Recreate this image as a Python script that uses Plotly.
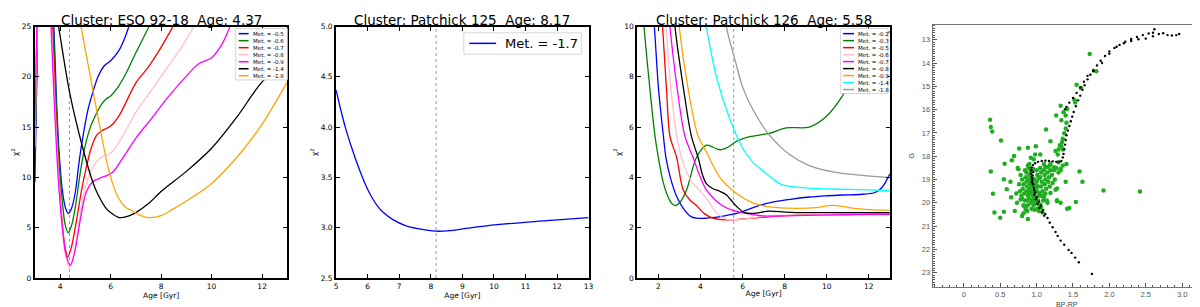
import plotly.graph_objects as go

W, H = 1200, 307

# ---------------- Panel 1: ESO 92-18 ----------------
p1_title = "Cluster: ESO 92-18 \u00a0Age: 4.37"
p1_best_age = 4.37
p1_labels = ["Met. = -0.5", "Met. = -0.6", "Met. = -0.7", "Met. = -0.8",
             "Met. = -0.9", "Met. = -1.4", "Met. = -1.8"]
p1_colors = ["#0000ff", "#008000", "#ff0000", "#ffc0cb", "#ff00ff", "#000000", "#ffa500"]

p1_age_m05 = [3.0, 3.08, 3.15, 3.4, 3.75, 3.86, 3.96, 4.1, 4.22, 4.33, 4.45, 4.6, 4.75, 4.9,
              5.1, 5.3, 5.5, 5.75, 6.0, 6.3, 6.55, 6.75, 7.0]
p1_chi_m05 = [9.5, 20, 32, 40, 25, 17.5, 12.5, 8.5, 6.9, 6.4, 6.9, 8.5, 11.5, 14,
              16.7, 18.5, 20, 21.1, 21.6, 22.5, 23.8, 25.2, 27]
p1_age_m06 = [3.0, 3.08, 3.15, 3.4, 3.73, 3.85, 3.95, 4.1, 4.2, 4.32, 4.45, 4.6, 4.8, 4.97,
              5.2, 5.43, 5.65, 5.82, 6.0, 6.3, 6.6, 7.0, 7.52, 7.8]
p1_chi_m06 = [12, 22, 32, 40, 25, 17, 12.0, 7.3, 5.3, 4.5, 5.2, 7, 10.5, 12.9,
              15, 16.3, 17.3, 17.8, 18.1, 19.0, 20.3, 22.4, 25, 26.5]
p1_age_m07 = [3.0, 3.08, 3.15, 3.4, 3.7, 3.8, 3.92, 4.05, 4.18, 4.3, 4.42, 4.6, 4.8, 4.93,
              5.23, 5.45, 5.69, 6.0, 6.35, 7.0, 7.5, 7.92, 8.47, 8.8]
p1_chi_m07 = [14, 24, 33, 40, 25, 18, 11.5, 6.5, 3.3, 2.1, 2.8, 5.0, 8.0, 9.75,
              12.9, 14.2, 14.7, 15.1, 16.2, 19.4, 21.0, 22.6, 25, 26.5]
p1_age_m08 = [3.0, 3.08, 3.15, 3.4, 3.66, 3.78, 3.92, 4.05, 4.2, 4.38, 4.55, 4.75, 4.95,
              5.17, 5.45, 5.69, 6.0, 6.5, 7.0, 7.6, 8.18, 8.8, 9.29, 9.6]
p1_chi_m08 = [13, 23, 33, 40, 25, 18, 11.0, 6, 2.5, 0.9, 2.3, 5.5, 8.5,
              10.4, 11.6, 12.1, 12.4, 14.2, 16.5, 18.6, 20.7, 22.9, 25, 26.5]
p1_age_m09 = [3.0, 3.08, 3.15, 3.4, 3.64, 3.76, 3.9, 4.05, 4.22, 4.4, 4.58, 4.8, 5.03, 5.3,
              5.56, 6.07, 6.5, 7.0, 7.6, 8.25, 8.9, 9.49, 10.0, 10.4, 10.73, 11.0]
p1_chi_m09 = [15, 25, 34, 40, 25, 18, 11.0, 6, 2.5, 1.25, 2.6, 5.8, 8.5, 9.6,
              9.9, 10.5, 12.0, 13.9, 15.8, 17.9, 19.8, 21.3, 21.9, 23.2, 25, 26.5]
p1_age_m14 = [3.8, 3.94, 4.38, 4.9, 5.3, 5.5, 5.8, 6.0, 6.34, 6.7, 7.0, 7.5, 8.0, 9.0,
              10.0, 11.0, 12.0, 13.0]
p1_chi_m14 = [27, 25, 18.4, 12.9, 9.5, 8.3, 7.0, 6.5, 6.0, 6.15, 6.5, 7.4, 8.6, 10.6,
              12.9, 16.0, 19.5, 21.8]
p1_age_m18 = [4.7, 4.83, 5.2, 5.5, 5.95, 6.3, 6.6, 6.87, 7.2, 7.52, 8.0, 8.5, 9.1, 10.0,
              11.2, 12.0, 13.0]
p1_chi_m18 = [27, 25, 20, 16, 10.5, 8.0, 7.0, 6.66, 6.2, 6.0, 6.2, 6.9, 7.8, 9.4,
              12.6, 15.3, 19.5]

# ---------------- Panel 2: Patchick 125 ----------------
p2_title = "Cluster: Patchick 125 \u00a0Age: 8.17"
p2_best_age = 8.17
p2_label = "Met. = -1.7"
p2_color = "#0000ff"
p2_age = [5.0, 5.15, 5.3, 5.5, 5.7, 5.9, 6.1, 6.3, 6.5, 6.8, 7.2, 7.6, 8.17, 8.6, 9.06,
          10.1, 11.68, 13.0]
p2_chi = [4.37, 4.17, 3.99, 3.79, 3.61, 3.45, 3.32, 3.22, 3.15, 3.08, 3.02, 2.99, 2.965,
          2.97, 2.99, 3.03, 3.07, 3.10]

# ---------------- Panel 3: Patchick 126 ----------------
p3_title = "Cluster: Patchick 126 \u00a0Age: 5.58"
p3_best_age = 5.58
p3_labels = ["Met. = -0.2", "Met. = -0.3", "Met. = -0.5", "Met. = -0.6", "Met. = -0.7",
             "Met. = -0.8", "Met. = -0.9", "Met. = -1.4", "Met. = -1.8"]
p3_colors = ["#0000ff", "#008000", "#ff0000", "#ffc0cb", "#ff00ff", "#000000",
             "#ffa500", "#00ffff", "#999999"]

p3_age_m02 = [1.7, 1.81, 2.0, 2.24, 2.36, 2.6, 2.87, 3.2, 3.57, 3.97, 4.28, 4.8, 5.3, 5.86,
              6.5, 7.27, 8.2, 9.17, 10.0, 10.74, 11.69, 12.3, 12.63, 13.0]
p3_chi_m02 = [11, 10, 7.6, 5.64, 4.79, 3.9, 3.24, 2.75, 2.43, 2.37, 2.38, 2.42, 2.5, 2.6,
              2.8, 2.99, 3.12, 3.22, 3.27, 3.3, 3.33, 3.4, 3.6, 4.14]
p3_age_m03 = [1.2, 1.32, 1.6, 1.84, 2.0, 2.2, 2.39, 2.6, 2.79, 3.0, 3.34, 3.81, 4.29, 4.6,
              4.92, 5.3, 5.7, 6.33, 7.28, 8.06, 9.17, 9.95, 10.74, 11.69, 12.4, 13.0]
p3_chi_m03 = [11.5, 10, 7.5, 5.64, 4.79, 3.9, 3.37, 3.0, 2.88, 2.98, 3.5, 4.79, 5.28, 5.2,
              5.1, 5.2, 5.43, 5.62, 5.75, 5.97, 6.0, 6.4, 7.23, 8.78, 9.5, 9.8]
p3_age_m05 = [2.1, 2.2, 2.4, 2.55, 2.87, 3.18, 3.5, 3.81, 4.2, 4.6, 5.0, 5.7, 6.5, 7.5,
              8.54, 10.0, 11.5, 13.0]
p3_chi_m05 = [11, 10, 7.3, 5.64, 4.79, 3.5, 3.1, 2.88, 2.55, 2.38, 2.32, 2.32, 2.38, 2.45,
              2.5, 2.52, 2.53, 2.55]
p3_age_m06 = [2.25, 2.36, 2.6, 2.87, 3.1, 3.35, 3.65, 4.0, 4.28, 4.5, 4.76, 5.23, 6.0, 7.0,
              8.5, 10.0, 11.5, 13.0]
p3_chi_m06 = [11, 10, 7.5, 5.64, 4.79, 4.2, 3.76, 3.45, 3.18, 2.9, 2.6, 2.34, 2.34, 2.45,
              2.5, 2.52, 2.53, 2.55]
p3_age_m07 = [2.45, 2.55, 2.9, 3.26, 3.65, 4.0, 4.28, 4.7, 5.07, 5.5, 6.0, 6.96, 8.0, 9.5,
              11.0, 13.0]
p3_chi_m07 = [11, 10, 7.5, 5.64, 4.79, 4.0, 3.5, 3.1, 2.86, 2.7, 2.6, 2.47, 2.47, 2.5,
              2.52, 2.53]
p3_age_m08 = [2.7, 2.79, 3.2, 3.57, 3.89, 4.1, 4.28, 4.6, 4.91, 5.23, 5.45, 5.7, 6.09, 6.5,
              7.28, 8.0, 8.54, 10.0, 11.5, 13.0]
p3_chi_m08 = [11, 10, 7.5, 5.64, 4.79, 4.1, 3.75, 3.55, 3.45, 3.31, 3.1, 2.86, 2.6, 2.57,
              2.66, 2.62, 2.6, 2.6, 2.6, 2.6]
p3_age_m09 = [2.9, 2.99, 3.4, 3.89, 4.29, 4.92, 5.7, 6.49, 7.27, 8.54, 9.5, 10.1, 10.6,
              11.2, 12.0, 13.0]
p3_chi_m09 = [11, 10, 7.6, 5.64, 5.0, 4.0, 3.37, 2.99, 2.83, 2.77, 2.8, 2.88, 2.87,
              2.78, 2.72, 2.7]
p3_age_m14 = [4.1, 4.28, 4.76, 5.39, 6.0, 6.5, 6.96, 7.5, 7.9, 8.5, 9.17, 10.0, 11.06,
              12.0, 13.0]
p3_chi_m14 = [11, 10, 8.0, 6.33, 5.17, 4.6, 4.27, 3.9, 3.7, 3.62, 3.57, 3.54, 3.52,
              3.5, 3.47]
p3_age_m18 = [5.1, 5.23, 5.7, 6.0, 6.49, 7.27, 8.22, 9.17, 10.43, 11.69, 13.0]
p3_chi_m18 = [11, 10, 8.5, 7.6, 6.7, 5.69, 4.92, 4.47, 4.2, 4.08, 3.99]

# ---------------- Panel 4: CMD ----------------
iso_bprp = [1.76, 1.58, 1.53, 1.48, 1.44, 1.38, 1.33, 1.29, 1.26, 1.22, 1.18, 1.15, 1.12,
            1.09, 1.06, 1.03, 1.0, 0.98, 0.96, 0.95, 0.94, 0.93, 0.925, 0.925, 0.93, 0.95,
            0.98, 1.02, 1.07, 1.12, 1.17, 1.22, 1.27, 1.31, 1.34, 1.36, 1.37, 1.38, 1.39,
            1.4, 1.41, 1.43, 1.45, 1.47, 1.49, 1.51, 1.54, 1.57, 1.6, 1.63, 1.66, 1.7, 1.74,
            1.78, 1.83, 1.88, 1.94, 2.0, 2.07, 2.14, 2.22, 2.3, 2.38, 2.46, 2.54, 2.6, 2.62,
            1.39, 1.41, 1.45, 1.5, 1.55, 1.6, 1.65, 1.7, 1.78, 1.9, 2.0, 2.1, 2.2, 2.3, 2.4,
            2.5, 2.6, 2.68, 2.74, 2.8, 2.86, 2.92, 2.96,
            0.935, 0.94, 0.945, 0.955, 0.965, 0.97, 0.99, 1.01, 1.04, 1.075, 1.105]
iso_g = [23.05, 22.55, 22.35, 22.15, 22.02, 21.8, 21.62, 21.42, 21.25, 21.05, 20.85, 20.65,
         20.48, 20.3, 20.12, 19.95, 19.75, 19.55, 19.35, 19.2, 19.05, 18.9, 18.75, 18.6,
         18.48, 18.38, 18.3, 18.24, 18.2, 18.19, 18.2, 18.22, 18.24, 18.24, 18.2, 18.05,
         17.9, 17.7, 17.5, 17.3, 17.1, 16.9, 16.7, 16.5, 16.3, 16.1, 15.85, 15.6, 15.4,
         15.15, 14.95, 14.7, 14.5, 14.3, 14.1, 13.9, 13.7, 13.5, 13.35, 13.22, 13.08, 12.97,
         12.88, 12.8, 12.73, 12.7, 12.55,
         15.98, 15.88, 15.7, 15.5, 15.28, 15.05, 14.8, 14.55, 14.35, 14.0, 13.6, 13.3, 13.15,
         13.05, 12.98, 12.95, 12.85, 12.75, 12.72, 12.8, 12.82, 12.8, 12.75,
         19.12, 18.98, 18.82, 18.68, 19.45, 19.65, 19.85, 20.05, 20.22, 20.4, 20.55]

star_bprp = [0.36, 0.37, 0.39, 0.51, 0.37, 0.40, 0.42, 0.50, 0.55, 0.55, 0.56, 0.59, 0.64,
             0.65, 0.66, 0.69, 0.70, 0.76, 0.75, 0.78, 0.80, 0.88, 0.85, 0.83, 1.03, 1.05,
             1.15, 1.09, 1.19, 1.26, 1.28, 1.28, 1.33, 1.42, 1.28, 1.40, 1.41, 1.33, 1.30,
             1.24, 1.15, 1.19, 1.10, 1.19, 1.13, 1.27, 1.33, 1.34, 1.37, 1.42, 1.52, 1.55,
             1.61, 1.53, 1.40, 1.41, 1.40, 1.38, 1.36, 1.35, 1.34, 1.32, 1.30, 1.29, 1.26,
             1.36, 1.73, 1.82, 1.59, 1.63, 1.54, 1.45, 1.92, 2.42, 0.99, 0.98, 0.92, 0.88,
             1.05, 0.90, 0.96,
             0.80, 0.82, 0.81, 0.83, 0.80, 0.84, 0.82, 0.85, 0.86, 0.85, 0.86, 0.87, 0.86,
             0.88, 0.87, 0.88, 0.89, 0.90, 0.89, 0.91, 0.90, 0.91, 0.90, 0.92, 0.93, 0.94,
             0.93, 0.95, 0.94, 0.96, 0.97, 0.96, 0.98, 0.97, 0.99, 0.98, 1.00, 1.01, 1.00,
             1.02, 1.01, 1.03, 1.02, 1.04, 1.05, 1.06, 1.05, 1.07, 1.06, 1.08, 1.07, 1.09,
             1.10, 1.11, 1.12, 1.11, 1.13, 1.12, 1.15, 1.17, 1.16, 1.19, 1.21, 1.24, 1.27,
             1.30, 1.33, 1.36, 1.12, 1.18, 0.95, 0.92, 0.88, 0.84, 0.78, 0.76, 0.77, 0.79,
             0.93, 0.97, 1.01, 1.06, 0.87, 0.82, 1.08, 0.99, 0.95, 1.03, 0.91, 1.04, 0.96,
             0.89, 1.10, 1.14, 1.18, 1.22, 1.25, 0.74, 0.72, 0.73]
star_g = [16.43, 16.74, 16.94, 17.32, 18.65, 19.61, 20.42, 20.64, 20.38, 18.99, 18.32,
          19.42, 19.1, 19.76, 18.17, 17.99, 20.35, 17.67, 18.56, 19.86, 20.56, 20.69, 20.28,
          20.14, 20.35, 20.07, 20.0, 19.72, 19.58, 19.44, 19.93, 19.89, 20.0, 20.25, 19.38,
          19.1, 18.33, 18.54, 18.26, 18.47, 18.47, 18.33, 18.33, 17.36, 16.85, 16.25, 15.83,
          16.46, 16.11, 15.97, 15.58, 14.93, 15.07, 15.69, 16.25, 16.56, 16.81, 17.01, 17.25,
          17.39, 17.57, 17.53, 17.71, 17.92, 17.78, 17.71, 13.61, 14.35, 18.65, 19.1, 19.96,
          20.22, 19.47, 19.51, 17.57, 17.92, 18.06, 17.64, 17.92, 18.33, 18.13,
          19.0, 19.2, 19.4, 19.6, 19.8, 19.9, 20.1, 20.2, 18.7, 18.9, 19.1, 19.3, 19.5,
          19.7, 19.9, 20.1, 18.5, 18.8, 19.0, 19.2, 19.4, 19.6, 19.8, 20.0, 19.1, 19.3,
          19.5, 19.7, 19.9, 20.1, 19.0, 19.2, 19.4, 19.6, 19.8, 20.0, 18.6, 18.8, 19.1,
          19.3, 19.5, 19.7, 19.9, 20.1, 18.5, 18.7, 18.9, 19.1, 19.3, 19.5, 19.7, 19.9,
          18.6, 18.8, 19.0, 19.2, 19.4, 19.6, 18.7, 18.9, 19.1, 18.6, 18.8, 18.6, 18.5,
          18.7, 18.6, 18.4, 18.45, 18.4, 18.55, 18.65, 18.4, 18.6, 18.8, 19.2, 19.5, 19.7,
          20.25, 20.3, 20.25, 20.2, 20.35, 20.45, 20.4, 19.25, 18.95, 18.95, 19.05, 19.6,
          19.85, 19.55, 19.75, 19.9, 19.3, 19.15, 19.0, 18.5, 19.6, 20.0]

cmd_xticks = [0, 0.5, 1.0, 1.5, 2.0, 2.5, 3.0]
cmd_xticktext = ["0", "0.5", "1.0", "1.5", "2.0", "2.5", "3.0"]
cmd_yticks = [13, 14, 15, 16, 17, 18, 19, 20, 21, 22, 23]

# ---------------- helpers ----------------
def px(x):
    return x / W


def py(y):
    return 1 - y / H


FONT = "DejaVu Sans"
fig = go.Figure()

p1_curves = [(p1_age_m05, p1_chi_m05), (p1_age_m06, p1_chi_m06), (p1_age_m07, p1_chi_m07),
             (p1_age_m08, p1_chi_m08), (p1_age_m09, p1_chi_m09), (p1_age_m14, p1_chi_m14),
             (p1_age_m18, p1_chi_m18)]
for (a, c), col, lab in zip(p1_curves, p1_colors, p1_labels):
    fig.add_trace(go.Scatter(x=a, y=c, mode="lines", name=lab, showlegend=False,
                             line=dict(color=col, width=1.3, shape="spline", smoothing=0.9),
                             xaxis="x", yaxis="y"))

fig.add_trace(go.Scatter(x=p2_age, y=p2_chi, mode="lines", name=p2_label, showlegend=False,
                         line=dict(color=p2_color, width=1.3, shape="spline", smoothing=1.0),
                         xaxis="x2", yaxis="y2"))

p3_curves = [(p3_age_m02, p3_chi_m02), (p3_age_m03, p3_chi_m03), (p3_age_m05, p3_chi_m05),
             (p3_age_m06, p3_chi_m06), (p3_age_m07, p3_chi_m07), (p3_age_m08, p3_chi_m08),
             (p3_age_m09, p3_chi_m09), (p3_age_m14, p3_chi_m14), (p3_age_m18, p3_chi_m18)]
for (a, c), col, lab in zip(p3_curves, p3_colors, p3_labels):
    fig.add_trace(go.Scatter(x=a, y=c, mode="lines", name=lab, showlegend=False,
                             line=dict(color=col, width=1.3, shape="spline", smoothing=0.9),
                             xaxis="x3", yaxis="y3"))

fig.add_trace(go.Scatter(x=star_bprp, y=star_g, mode="markers", showlegend=False,
                         marker=dict(color="#1fae1f", size=4.5, line=dict(width=0)),
                         xaxis="x4", yaxis="y4"))
fig.add_trace(go.Scatter(x=iso_bprp, y=iso_g, mode="markers", showlegend=False,
                         marker=dict(color="black", size=2.4, line=dict(width=0)),
                         xaxis="x4", yaxis="y4"))

# best-age markers (dotted verticals)
for xr, yr, age in [("x", "y", p1_best_age), ("x2", "y2", p2_best_age), ("x3", "y3", p3_best_age)]:
    fig.add_shape(type="line", xref=xr, yref=yr + " domain", x0=age, x1=age, y0=0, y1=1,
                  line=dict(color="#999999", width=1, dash="dot"), layer="below")

# axes
ydom = [py(274), py(15)]
common = dict(showgrid=False, zeroline=False, showline=True, linecolor="black", linewidth=2,
              mirror="allticks", ticks="inside", ticklen=4, tickwidth=1, tickcolor="black",
              tickfont=dict(family=FONT, size=7.5, color="black"))
title_font = dict(family=FONT, size=7.5, color="black")

layout = dict(
    width=W, height=H, margin=dict(l=0, r=0, t=0, b=0),
    paper_bgcolor="white", plot_bgcolor="white", showlegend=False,
    xaxis=dict(domain=[px(25), px(279)], range=[3, 13], dtick=2, tick0=0, anchor="y",
               title=dict(text="Age [Gyr]", font=title_font, standoff=1), **common),
    yaxis=dict(domain=ydom, range=[0, 25], dtick=5, anchor="x",
               title=dict(text="\u03c7<sup>2</sup>", font=title_font, standoff=2), **common),
    xaxis2=dict(domain=[px(328), px(582)], range=[5, 13], dtick=1, anchor="y2",
                title=dict(text="Age [Gyr]", font=title_font, standoff=1), **common),
    yaxis2=dict(domain=ydom, range=[2.5, 5.0], dtick=0.5, tickformat=".1f", anchor="x2",
                title=dict(text="\u03c7<sup>2</sup>", font=title_font, standoff=2), **common),
    xaxis3=dict(domain=[px(631), px(885)], range=[1, 13], dtick=2, tick0=0, anchor="y3",
                title=dict(text="Age [Gyr]", font=title_font, standoff=1), **common),
    yaxis3=dict(domain=ydom, range=[0, 10], dtick=2, anchor="x3",
                title=dict(text="\u03c7<sup>2</sup>", font=title_font, standoff=2), **common),
)

cmd_common = dict(showgrid=False, zeroline=False, showline=True, linecolor="#777777",
                  linewidth=1, mirror=True, ticks="inside", ticklen=4, tickcolor="#555555",
                  tickfont=dict(family="Liberation Sans", size=7.5, color="#555555"))
layout["xaxis4"] = dict(domain=[px(928), px(1198)], range=[-0.43, 3.26], anchor="y4",
                        tickvals=cmd_xticks, ticktext=cmd_xticktext,
                        minor=dict(ticks="inside", dtick=0.1, ticklen=2, tickcolor="#555555"),
                        title=dict(text="BP-RP", font=dict(family="Liberation Sans", size=7,
                                                           color="#444444"), standoff=4),
                        **cmd_common)
layout["yaxis4"] = dict(domain=[py(283), py(13)], range=[23.6, 12.35], anchor="x4",
                        tickvals=cmd_yticks,
                        minor=dict(ticks="inside", dtick=0.1, ticklen=2, tickcolor="#555555"),
                        title=dict(text="G", font=dict(family="Liberation Sans", size=7,
                                                       color="#444444"), standoff=6),
                        **cmd_common)
fig.update_layout(**layout)

# titles
for cx, t in [((25 + 279) / 2, p1_title), ((328 + 582) / 2, p2_title), ((631 + 885) / 2, p3_title)]:
    fig.add_annotation(text=t, xref="paper", yref="paper", x=px(cx), y=py(8),
                       xanchor="center", yanchor="middle", showarrow=False,
                       font=dict(family=FONT, size=13.5, color="black"))


# legends (drawn manually to reproduce the compact matplotlib legend)
def draw_legend(box, x_line, x_text, y0, step, labels, colors, size):
    fig.add_shape(type="rect", xref="paper", yref="paper", x0=px(box[0]), x1=px(box[1]),
                  y0=py(box[3]), y1=py(box[2]), line=dict(color="#cccccc", width=0.8),
                  fillcolor="white", layer="above")
    for i, (lab, col) in enumerate(zip(labels, colors)):
        yy = y0 + i * step
        fig.add_shape(type="line", xref="paper", yref="paper", x0=px(x_line[0]),
                      x1=px(x_line[1]), y0=py(yy), y1=py(yy),
                      line=dict(color=col, width=1.5), layer="above")
        fig.add_annotation(text=lab, xref="paper", yref="paper", x=px(x_text), y=py(yy),
                           xanchor="left", yanchor="middle", showarrow=False,
                           font=dict(family=FONT, size=size, color="black"))


draw_legend((227, 279, 17, 70), (230, 240), 242, 22.3, 7.23, p1_labels, p1_colors, 5.5)
draw_legend((456.5, 575, 21.5, 43.5), (462, 489), 496, 32.3, 0, [p2_label], [p2_color], 13)
draw_legend((835.5, 883, 17, 84), (838, 849), 850.5, 22.3, 7.2, p3_labels, p3_colors, 5.5)

fig.write_html("out.html")
